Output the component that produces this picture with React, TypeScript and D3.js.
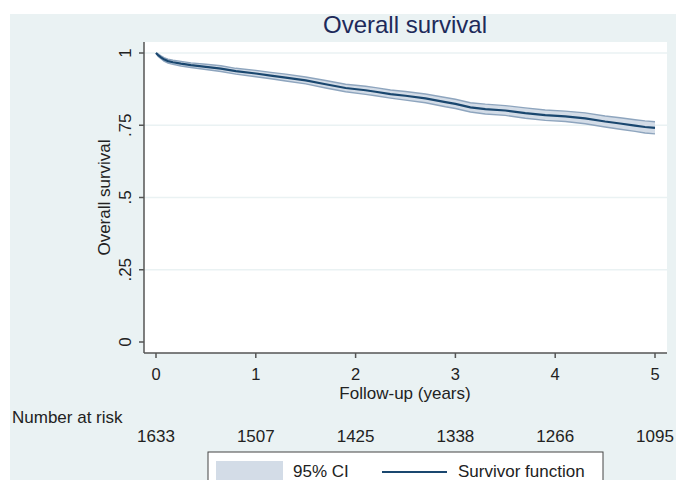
import React from "react";
import * as d3 from "d3";

const times = [0, 0.02, 0.05, 0.08, 0.12, 0.17, 0.25, 0.35, 0.5, 0.65, 0.8, 1.0, 1.15, 1.3, 1.5, 1.7, 1.9, 2.1, 2.2, 2.35, 2.5, 2.7, 2.9, 3.0, 3.15, 3.3, 3.5, 3.7, 3.9, 4.1, 4.3, 4.5, 4.65, 4.8, 4.9, 5.0];
const survival = [1.0, 0.993, 0.985, 0.978, 0.972, 0.968, 0.963, 0.958, 0.952, 0.946, 0.937, 0.929, 0.922, 0.915, 0.905, 0.892, 0.879, 0.871, 0.866, 0.858, 0.852, 0.843, 0.83, 0.824, 0.812, 0.806, 0.801, 0.792, 0.785, 0.781, 0.774, 0.763, 0.756, 0.749, 0.744, 0.741];
const lowerCI = [1.0, 0.989, 0.98, 0.972, 0.965, 0.961, 0.955, 0.95, 0.943, 0.936, 0.927, 0.918, 0.911, 0.903, 0.893, 0.879, 0.866, 0.857, 0.852, 0.844, 0.837, 0.828, 0.814, 0.808, 0.796, 0.789, 0.784, 0.774, 0.767, 0.763, 0.755, 0.744, 0.736, 0.729, 0.723, 0.72];
const upperCI = [1.0, 0.997, 0.99, 0.984, 0.979, 0.975, 0.971, 0.966, 0.961, 0.956, 0.947, 0.94, 0.933, 0.927, 0.917, 0.905, 0.892, 0.885, 0.88, 0.872, 0.867, 0.858, 0.846, 0.84, 0.828, 0.823, 0.818, 0.81, 0.803, 0.799, 0.793, 0.782, 0.776, 0.769, 0.765, 0.762];

const xTicks = [0, 1, 2, 3, 4, 5];
const yTicks = [0, 0.25, 0.5, 0.75, 1];
const yTickLabels = ["0", ".25", ".5", ".75", "1"];
const atRisk = [1633, 1507, 1425, 1338, 1266, 1095];

const BG = "#eaf2f3";
const NAVY = "#1a476f";
const FONT = "'Liberation Sans', Arial, Helvetica, sans-serif";

export default function App() {
  const W = 676, H = 480;
  const x = d3.scaleLinear().domain([0, 5]).range([156, 655]);
  const y = d3.scaleLinear().domain([0, 1]).range([342, 53]);
  const plotLeft = 144, plotRight = 667, plotTop = 42, plotBottom = 353;

  const pts = times.map((t, i) => ({ t, s: survival[i], lo: lowerCI[i], hi: upperCI[i] }));
  const area = d3.area<any>().x(d => x(d.t)).y0(d => y(d.lo)).y1(d => y(d.hi));
  const lineS = d3.line<any>().x(d => x(d.t)).y(d => y(d.s));
  const lineLo = d3.line<any>().x(d => x(d.t)).y(d => y(d.lo));
  const lineHi = d3.line<any>().x(d => x(d.t)).y(d => y(d.hi));

  return (
    <svg width={W} height={H} style={{ position: "absolute", left: 0, top: 0 }} fontFamily={FONT}>
      <rect x={0} y={0} width={W} height={H} fill="#ffffff" />
      <rect x={10} y={14} width={W - 10} height={H - 14} fill={BG} />
      <rect x={plotLeft} y={plotTop} width={plotRight - plotLeft} height={plotBottom - plotTop} fill="#ffffff" />
      {yTicks.filter(v => v > 0).map(v => (
        <line key={"g" + v} x1={plotLeft} x2={plotRight} y1={y(v)} y2={y(v)} stroke={BG} strokeWidth={1.5} />
      ))}
      <path d={area(pts) || ""} fill="#d3dce7" stroke="none" />
      <path d={lineLo(pts) || ""} fill="none" stroke="#8ea5be" strokeWidth={1.4} />
      <path d={lineHi(pts) || ""} fill="none" stroke="#8ea5be" strokeWidth={1.4} />
      <path d={lineS(pts) || ""} fill="none" stroke={NAVY} strokeWidth={2.2} />

      {/* axes */}
      <line x1={plotLeft} x2={plotLeft} y1={plotTop} y2={plotBottom} stroke="#555" strokeWidth={1.5} />
      <line x1={plotLeft} x2={plotRight} y1={plotBottom} y2={plotBottom} stroke="#555" strokeWidth={1.5} />
      {yTicks.map((v, i) => (
        <g key={"y" + v}>
          <line x1={plotLeft - 5} x2={plotLeft} y1={y(v)} y2={y(v)} stroke="#555" strokeWidth={1.5} />
          <text transform={`translate(131,${y(v)}) rotate(-90)`} textAnchor="middle" fontSize={17} fill="#222">{yTickLabels[i]}</text>
        </g>
      ))}
      {xTicks.map(v => (
        <g key={"x" + v}>
          <line x1={x(v)} x2={x(v)} y1={plotBottom} y2={plotBottom + 5} stroke="#555" strokeWidth={1.5} />
          <text x={x(v)} y={380} textAnchor="middle" fontSize={16.5} fill="#222">{v}</text>
        </g>
      ))}
      <text transform={`translate(110,${y(0.5)}) rotate(-90)`} textAnchor="middle" fontSize={17} fill="#222">Overall survival</text>
      <text x={405} y={399} textAnchor="middle" fontSize={17} fill="#222">Follow-up (years)</text>
      <text x={405} y={33} textAnchor="middle" fontSize={24} fill="#1e2a5a">Overall survival</text>

      <text x={12} y={423} fontSize={17} fill="#222">Number at risk</text>
      {atRisk.map((n, i) => (
        <text key={"r" + i} x={x(xTicks[i])} y={442} textAnchor="middle" fontSize={17} fill="#222">{n}</text>
      ))}

      {/* legend */}
      <rect x={208} y={452} width={395} height={40} fill="#ffffff" stroke="#444" strokeWidth={1} />
      <rect x={216} y={461} width={67} height={30} fill="#d3dce7" />
      <text x={293} y={477} fontSize={17} fill="#222">95% CI</text>
      <line x1={382} x2={447} y1={472} y2={472} stroke={NAVY} strokeWidth={2} />
      <text x={458} y={477} fontSize={17} fill="#222">Survivor function</text>
    </svg>
  );
}
